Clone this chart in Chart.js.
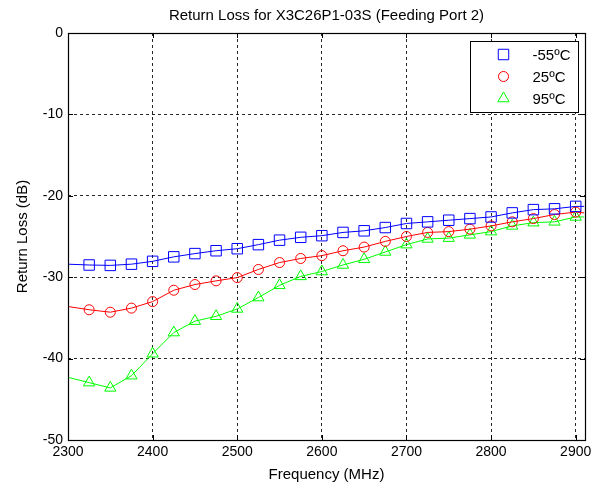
<!DOCTYPE html>
<html>
<head>
<meta charset="utf-8">
<script src="https://cdn.jsdelivr.net/npm/chart.js@4/dist/chart.umd.min.js"></script>
<style>
  html, body { margin: 0; padding: 0; background: #fff; }
  #wrap { width: 598px; height: 487px; }
</style>
</head>
<body>
<div id="wrap"><canvas id="c" width="598" height="487"></canvas></div>
<script>
// ---- data ----
const titleText = "Return Loss for X3C26P1-03S (Feeding Port 2)";
const xTitle = "Frequency (MHz)";
const yTitle = "Return Loss (dB)";
const seriesLabels = ["-55\u00BAC", "25\u00BAC", "95\u00BAC"];
const freq = [2300, 2325, 2350, 2375, 2400, 2425, 2450, 2475, 2500, 2525, 2550, 2575, 2600,
              2625, 2650, 2675, 2700, 2725, 2750, 2775, 2800, 2825, 2850, 2875, 2900, 2910];
const rlMinus55 = [-28.4, -28.5, -28.55, -28.4, -28.05, -27.5, -27.1, -26.75, -26.5, -26.0, -25.45, -25.1, -24.9,
                   -24.5, -24.3, -23.9, -23.4, -23.2, -23.0, -22.8, -22.6, -22.1, -21.7, -21.6, -21.3, -21.3];
const rl25 = [-33.6, -34.0, -34.3, -33.8, -33.0, -31.6, -30.9, -30.45, -30.05, -29.05, -28.2, -27.7, -27.35,
              -26.75, -26.3, -25.6, -25.0, -24.5, -24.4, -24.1, -23.7, -23.2, -22.8, -22.3, -22.0, -22.1];
const rl95 = [-42.3, -42.95, -43.6, -42.1, -39.4, -36.8, -35.4, -34.8, -33.9, -32.5, -31.0, -29.9, -29.3,
              -28.5, -27.8, -26.9, -26.0, -25.3, -25.2, -24.8, -24.4, -23.7, -23.3, -23.2, -22.6, -22.6];
const xTicks = [2300, 2400, 2500, 2600, 2700, 2800, 2900];
const yTicks = [-50, -40, -30, -20, -10, 0];
const xMin = 2300, xMax = 2911, yMin = -50, yMax = 0;

// ---- styles ----
const FONT = "'Liberation Sans', Arial, Helvetica, sans-serif";
const colors = ["#0000ff", "#ff0000", "#00ff00"];
const styles = ["rect", "circle", "triangle"];
const radii = [7.4, 5, 6.5];

function mk(vals, i) {
  const last = vals.length - 1;
  return {
    label: seriesLabels[i],
    data: freq.map((f, k) => ({x: f, y: vals[k]})),
    borderColor: colors[i],
    borderWidth: 1,
    pointStyle: styles[i],
    pointRadius: ctx => (ctx.dataIndex === 0 || ctx.dataIndex === last) ? 0 : radii[i],
    pointHoverRadius: 0,
    pointBorderColor: colors[i],
    pointBackgroundColor: "rgba(0,0,0,0)",
    pointBorderWidth: 1,
    tension: 0,
    fill: false
  };
}

function drawMarker(ctx, style, x, y, r, color) {
  ctx.save();
  ctx.strokeStyle = color;
  ctx.lineWidth = 1;
  ctx.beginPath();
  if (style === "rect") {
    const s = Math.SQRT1_2 * r;
    ctx.rect(x - s, y - s, 2 * s, 2 * s);
  } else if (style === "circle") {
    ctx.arc(x, y, r, 0, Math.PI * 2);
  } else {
    const a = -Math.PI / 2;
    for (let k = 0; k < 3; k++) {
      const ang = a + k * 2 * Math.PI / 3;
      const px = x + Math.cos(ang) * r, py = y + Math.sin(ang) * r;
      if (k === 0) ctx.moveTo(px, py); else ctx.lineTo(px, py);
    }
    ctx.closePath();
  }
  ctx.stroke();
  ctx.restore();
}

const boxPlugin = {
  id: "boxPlugin",
  afterDatasetsDraw(chart) {
    const {ctx, chartArea: a, scales} = chart;
    ctx.save();
    // inward tick marks
    ctx.strokeStyle = "#000";
    ctx.lineWidth = 1;
    const tl = 5;
    ctx.beginPath();
    xTicks.forEach(v => {
      const px = Math.round(scales.x.getPixelForValue(v)) + 0.5;
      ctx.moveTo(px, a.bottom); ctx.lineTo(px, a.bottom - tl);
      ctx.moveTo(px, a.top); ctx.lineTo(px, a.top + tl);
    });
    yTicks.forEach(v => {
      const py = Math.round(scales.y.getPixelForValue(v)) + 0.5;
      ctx.moveTo(a.left, py); ctx.lineTo(a.left + tl, py);
      ctx.moveTo(a.right, py); ctx.lineTo(a.right - tl, py);
    });
    ctx.stroke();
    // plot box
    ctx.lineWidth = 1.2;
    ctx.strokeRect(Math.round(a.left) + 0.5, Math.round(a.top) + 0.5,
                   Math.round(a.right - a.left), Math.round(a.bottom - a.top));
    // legend
    const bw = 108, bh = 71;
    const bx = Math.round(a.right - 7 - bw) + 0.5, by = Math.round(a.top + 8) + 0.5;
    ctx.fillStyle = "#fff";
    ctx.fillRect(bx, by, bw, bh);
    ctx.lineWidth = 1;
    ctx.strokeStyle = "#000";
    ctx.strokeRect(bx, by, bw, bh);
    ctx.font = "15px " + FONT;
    ctx.textBaseline = "middle";
    ctx.textAlign = "left";
    chart.data.datasets.forEach((ds, i) => {
      const cy = by + 13 + i * 22;
      drawMarker(ctx, styles[i], bx + 33, cy, radii[i], colors[i]);
      ctx.fillStyle = "#000";
      ctx.fillText(ds.label, bx + 62, cy + 1);
    });
    ctx.restore();
  }
};

new Chart(document.getElementById("c"), {
  type: "line",
  data: { datasets: [mk(rlMinus55, 0), mk(rl25, 1), mk(rl95, 2)] },
  options: {
    responsive: false,
    animation: false,
    devicePixelRatio: 1,
    layout: { padding: { left: 0, right: 13, top: 0, bottom: 0 } },
    plugins: {
      legend: { display: false },
      tooltip: { enabled: false },
      title: {
        display: true,
        fullSize: false,
        text: titleText,
        color: "#000",
        font: { family: FONT, size: 15, weight: "normal" },
        padding: { top: 6.5, bottom: 8.5 }
      }
    },
    scales: {
      x: {
        type: "linear",
        min: xMin, max: xMax,
        afterBuildTicks: s => { s.ticks = xTicks.map(v => ({value: v})); },
        afterFit: s => { s.height = 47; },
        grid: { color: "rgba(0,0,0,0.85)", lineWidth: 1, drawTicks: false },
        border: { display: false, dash: [3, 3] },
        ticks: { color: "#000", font: { family: FONT, size: 14 }, padding: 4, maxRotation: 0, autoSkip: false,
                 callback: v => String(v) },
        title: { display: true, text: xTitle, color: "#000",
                 font: { family: FONT, size: 15 }, padding: { top: 0, bottom: 3.5 } }
      },
      y: {
        min: yMin, max: yMax,
        afterBuildTicks: s => { s.ticks = yTicks.map(v => ({value: v})); },
        afterFit: s => { s.width = 68; },
        grid: { color: "rgba(0,0,0,0.85)", lineWidth: 1, drawTicks: false },
        border: { display: false, dash: [3, 3] },
        ticks: { color: "#000", font: { family: FONT, size: 14 }, padding: 5, autoSkip: false,
                 callback: v => String(v) },
        title: { display: true, text: yTitle, color: "#000",
                 font: { family: FONT, size: 15 }, padding: { top: 14, bottom: 0 } }
      }
    }
  },
  plugins: [boxPlugin]
});
</script>
</body>
</html>
